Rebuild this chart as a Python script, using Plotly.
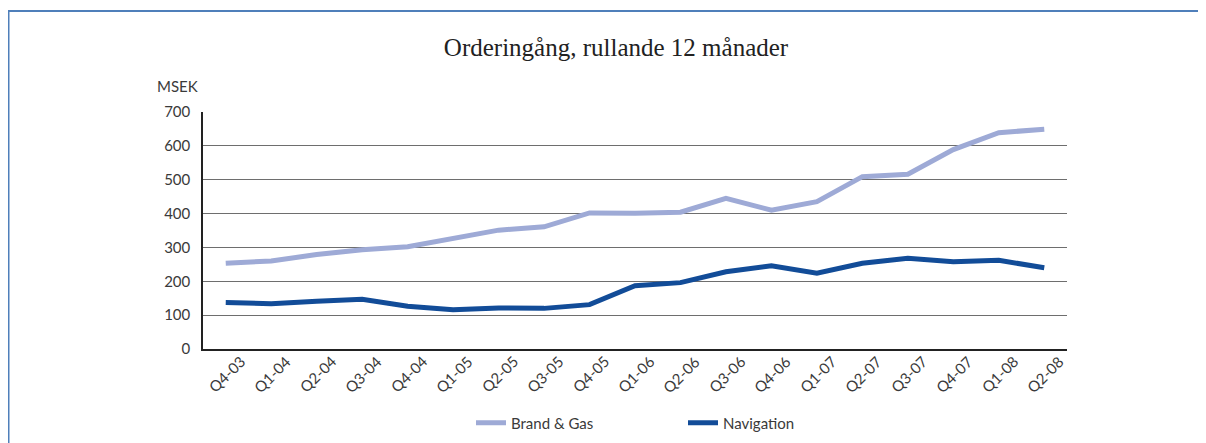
import plotly.graph_objects as go

categories = ["Q4-03", "Q1-04", "Q2-04", "Q3-04", "Q4-04", "Q1-05", "Q2-05", "Q3-05",
              "Q4-05", "Q1-06", "Q2-06", "Q3-06", "Q4-06", "Q1-07", "Q2-07", "Q3-07",
              "Q4-07", "Q1-08", "Q2-08"]
brand_gas = [253, 260, 279, 293, 302, 327, 351, 361, 402, 401, 404, 445, 410, 435,
             509, 516, 589, 639, 649]
navigation = [137, 134, 141, 147, 126, 116, 121, 120, 131, 187, 196, 228, 246, 224,
              253, 268, 258, 262, 240]
y_ticks = [0, 100, 200, 300, 400, 500, 600, 700]

W, H = 1206, 443
OFF = 8  # page body margin: screen pixel = figure pixel + OFF
# plot area in screen pixels
SX0, SX1, SY0, SY1 = 203, 1067, 112, 349
L, R = SX0 - OFF, W - (SX1 - OFF)
T, B = SY0 - OFF, H - (SY1 - OFF)
pw, ph = W - L - R, H - T - B

def px(sx):
    return (sx - OFF - L) / pw

def py(sy):
    return (H - B - (sy - OFF)) / ph

sans = "Lato, 'Open Sans', sans-serif"
text_col = "#3a3a3a"

fig = go.Figure()
fig.add_trace(go.Scatter(x=categories, y=brand_gas, name="Brand & Gas", mode="lines",
                         line=dict(color="#9eaad6", width=5)))
fig.add_trace(go.Scatter(x=categories, y=navigation, name="Navigation", mode="lines",
                         line=dict(color="#124c98", width=5)))

# rotated category labels, centred under each category like the original
tick_annotations = [dict(text=c, x=c, xref="x", y=py(374), yref="paper",
                         textangle=-45, xanchor="center", yanchor="middle",
                         showarrow=False, xshift=1,
                         font=dict(size=15, color=text_col)) for c in categories]

fig.update_layout(
    width=W, height=H,
    margin=dict(l=L, r=R, t=T, b=B, pad=0, autoexpand=False),
    paper_bgcolor="white", plot_bgcolor="white",
    font=dict(family=sans, size=14, color=text_col),
    title=dict(text="Orderingång, rullande 12 månader",
               font=dict(family="'Liberation Serif', 'DejaVu Serif', serif", size=25, color="#222"),
               x=px(616), xanchor="center", xref="paper",
               y=1 - (47 - OFF) / H, yanchor="middle"),
    xaxis=dict(type="category", showgrid=False, showline=True, showticklabels=False,
               linecolor="#222", linewidth=1.5, ticks="",
               range=[-0.5, len(categories) - 0.5]),
    yaxis=dict(range=[0, 700], tickvals=y_ticks, showgrid=True, gridcolor="#6e6e6e",
               gridwidth=1.3, showline=True, linecolor="#222", linewidth=1.5, ticks="",
               zeroline=False, tickfont=dict(size=15, color=text_col),
               ticklabelstandoff=8),
    showlegend=True,
    legend=dict(orientation="h", x=px(471), xanchor="left", y=py(423), yanchor="middle",
                entrywidth=167, entrywidthmode="pixels",
                font=dict(size=15, color=text_col), bgcolor="rgba(0,0,0,0)"),
    annotations=[dict(text="MSEK", x=px(177), y=py(86), xref="paper", yref="paper",
                      xanchor="center", yanchor="middle", showarrow=False,
                      font=dict(size=15, color=text_col))] + tick_annotations,
    shapes=[dict(type="rect", xref="paper", yref="paper", x0=px(8.5), x1=px(1206 + 40),
                 y0=py(11), y1=py(443 + 40), fillcolor="rgba(0,0,0,0)",
                 line=dict(color="#4f7fba", width=2), layer="below")],
)

fig.write_html("out.html", config={"displayModeBar": False})
